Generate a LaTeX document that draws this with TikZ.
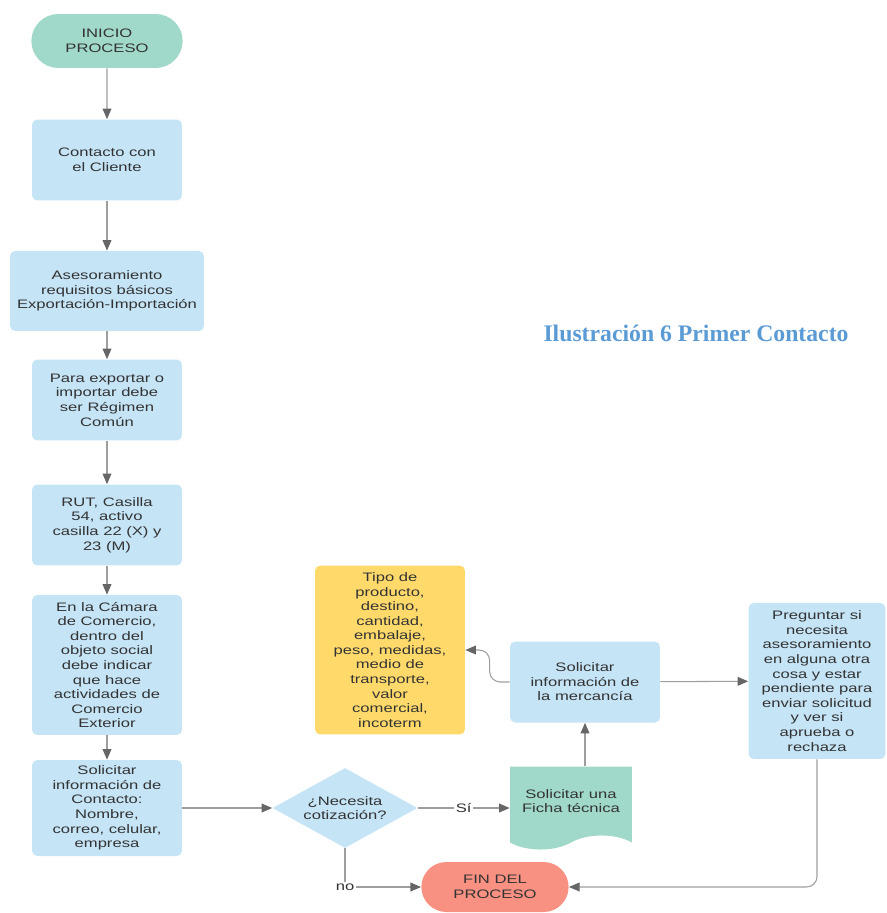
\documentclass[tikz,border=0pt]{standalone}
\usepackage{fontspec}
\setmainfont{Liberation Sans}[FakeStretch=1.35]
\newfontfamily\titlefont{Liberation Serif}
\usetikzlibrary{shapes.misc,shapes.geometric,shapes.symbols,arrows.meta}

\definecolor{boxblue}{HTML}{C5E4F6}
\definecolor{tealbox}{HTML}{A0D9C9}
\definecolor{yellowbox}{HTML}{FFDA6A}
\definecolor{salmon}{HTML}{F99182}
\definecolor{titleblue}{HTML}{5B9BD5}
\definecolor{txt}{HTML}{333333}

\tikzset{
  every node/.style={font=\fontsize{7}{8.3}\selectfont, text=txt},
  box/.style={fill=boxblue, rounded corners=3pt, align=center, inner sep=2pt,
    minimum width=3cm, minimum height=1.62cm},
  startstop/.style={rounded rectangle, align=center, minimum width=3.26cm, minimum height=1.08cm},
  decision/.style={diamond, fill=boxblue, align=center, aspect=1.8, inner sep=0pt,
    minimum width=2.9cm, minimum height=1.6cm},
  docbox/.style={tape, tape bend top=none, tape bend bottom=in and out, tape bend height=8pt,
    fill=tealbox, align=center, minimum width=2.44cm, minimum height=1.66cm},
  arr/.style={draw=black!38, line width=0.6pt, -{Triangle[length=6pt,width=5pt,color=black!60]}},
  lbl/.style={fill=white, inner sep=1pt}
}

\begin{document}
\begin{tikzpicture}[x=0.02cm, y=-0.02cm]
  \useasboundingbox (0,0) rectangle (886,913);

  \node[startstop, fill=tealbox] (ini) at (107,41) {INICIO\\PROCESO};
  \node[box] (cont) at (107,160) {Contacto con\\el Cliente};
  \node[box, minimum width=3.88cm, minimum height=1.6cm] (ases) at (107,291)
    {Asesoramiento\\requisitos básicos\\Exportación-Importación};
  \node[box] (para) at (107,400) {Para exportar o\\importar debe\\ser Régimen\\Común};
  \node[box] (rut) at (107,525) {RUT, Casilla\\54, activo\\casilla 22 (X) y\\23 (M)};
  \node[box, minimum height=2.8cm] (cam) at (107,665)
    {En la Cámara\\de Comercio,\\dentro del\\objeto social\\debe indicar\\que hace\\actividades de\\Comercio\\Exterior};
  \node[box, minimum height=1.92cm] (sol) at (107,808)
    {Solicitar\\información de\\Contacto:\\Nombre,\\correo, celular,\\empresa};

  \node[decision] (nec) at (345,808) {¿Necesita\\cotización?};
  \node[docbox] (ficha) at (571,801) {Solicitar una\\Ficha técnica};
  \node[startstop, fill=salmon, minimum width=3.18cm, minimum height=1cm] (fin) at (495,887) {FIN DEL\\PROCESO};

  \node[box] (merc) at (585,682) {Solicitar\\información de\\la mercancía};
  \node[box, fill=yellowbox, minimum height=3.38cm] (tipo) at (390,650)
    {Tipo de\\producto,\\destino,\\cantidad,\\embalaje,\\peso, medidas,\\medio de\\transporte,\\valor\\comercial,\\incoterm};
  \node[box, minimum width=2.74cm, minimum height=3.12cm] (preg) at (817,681)
    {Preguntar si\\necesita\\asesoramiento\\en alguna otra\\cosa y estar\\pendiente para\\enviar solicitud\\y ver si\\aprueba o\\rechaza};

  \node[font=\titlefont\bfseries\fontsize{13.5}{16}\selectfont, text=titleblue] (titulo) at (696,333)
    {Ilustración 6 Primer Contacto};

  \draw[arr] (ini) -- (cont);
  \draw[arr] (cont) -- (ases);
  \draw[arr] (ases) -- (para);
  \draw[arr] (para) -- (rut);
  \draw[arr] (rut) -- (cam);
  \draw[arr] (cam) -- (sol);
  \draw[arr] (sol) -- (nec);
  \draw[arr] (nec) -- node[lbl] {Sí} (nec -| ficha.west);
  \draw[arr] (nec.south) |- node[lbl] {no} (fin.west);
  \draw[arr] (ficha.north -| merc.south) -- (merc.south);
  \draw[arr, rounded corners=6pt] (merc.west) -- ++(-20,0) |- (tipo.east);
  \draw[arr] (merc) -- (preg);
  \draw[arr, rounded corners=6pt] (preg.south) |- (fin.east);
\end{tikzpicture}
\end{document}
